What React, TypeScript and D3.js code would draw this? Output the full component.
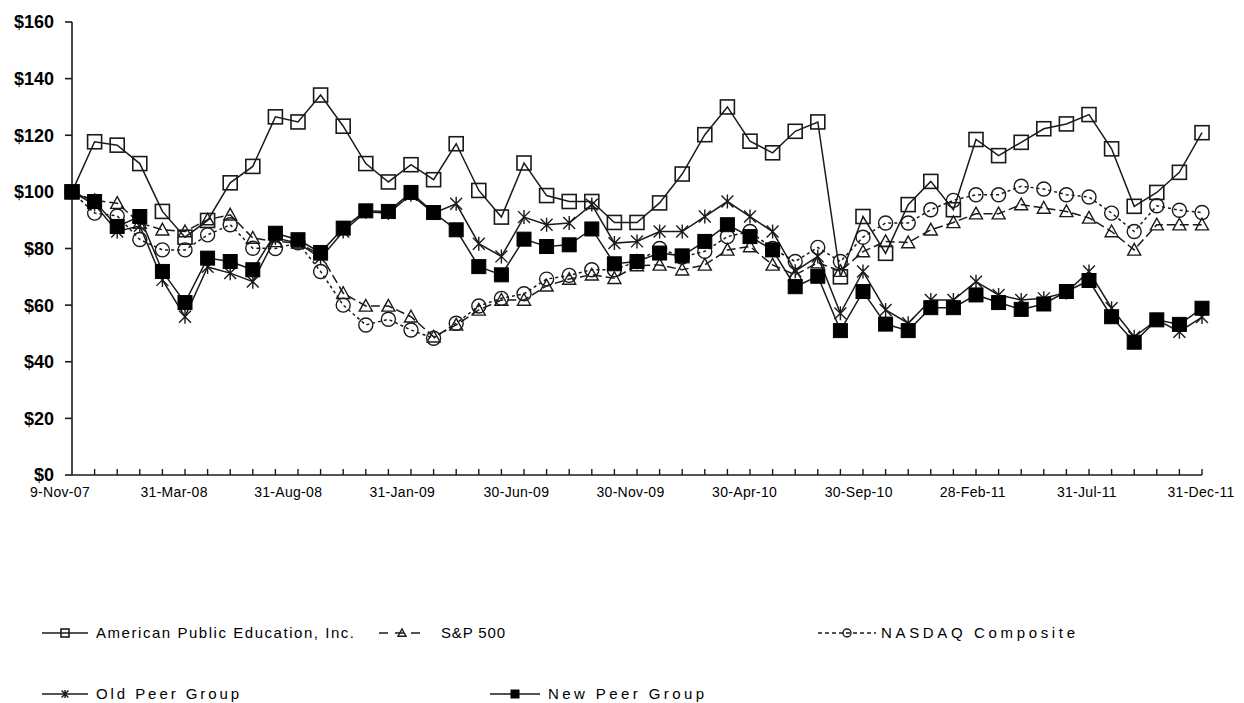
import React from "react";
import * as d3 from "d3";

const dates = [
  "9-Nov-07", "30-Nov-07", "31-Dec-07", "31-Jan-08", "29-Feb-08", "31-Mar-08", "30-Apr-08", "31-May-08", "30-Jun-08", "31-Jul-08",
  "31-Aug-08", "30-Sep-08", "31-Oct-08", "30-Nov-08", "31-Dec-08", "31-Jan-09", "28-Feb-09", "31-Mar-09", "30-Apr-09", "31-May-09",
  "30-Jun-09", "31-Jul-09", "31-Aug-09", "30-Sep-09", "31-Oct-09", "30-Nov-09", "31-Dec-09", "31-Jan-10", "28-Feb-10", "31-Mar-10",
  "30-Apr-10", "31-May-10", "30-Jun-10", "31-Jul-10", "31-Aug-10", "30-Sep-10", "31-Oct-10", "30-Nov-10", "31-Dec-10", "31-Jan-11",
  "28-Feb-11", "31-Mar-11", "30-Apr-11", "31-May-11", "30-Jun-11", "31-Jul-11", "31-Aug-11", "30-Sep-11", "31-Oct-11", "30-Nov-11",
  "31-Dec-11",
];

const apei = [100, 117.7, 116.5, 110, 93.1, 84, 89.9, 103.2, 109, 126.5, 124.7, 134.2, 123.2, 110, 103.5, 109.6, 104.3, 117, 100.5, 91.1, 110.2, 98.7, 96.6, 96.6, 89.2, 89.2, 96.1, 106.3, 120.2, 130, 117.9, 113.8, 121.4, 124.7, 70, 91.3, 78.3, 95.5, 103.7, 93.7, 118.5, 112.8, 117.5, 122.3, 124, 127.3, 115.2, 94.9, 99.8, 106.9, 120.9];
const sp500 = [100, 97, 96, 89, 86.6, 86, 90.2, 91.9, 83.7, 82.5, 82, 77.8, 64.2, 59.7, 59.7, 55.9, 48.8, 53, 58.3, 61.8, 61.8, 66.8, 69.2, 70.7, 69.5, 74, 74.2, 72.5, 74.2, 79.5, 80.7, 74.2, 70.7, 75, 72, 78.9, 82.5, 82.1, 86.6, 89.2, 92.3, 92.3, 95.5, 94.3, 93.1, 90.8, 86, 79.5, 88.4, 88.4, 88.4];
const nasdaq = [100, 92.5, 91.5, 83.2, 79.5, 79.5, 84.8, 88.4, 80.1, 80, 82, 71.9, 60, 53, 55, 51.2, 48.3, 53.6, 59.7, 62.4, 64, 69.2, 70.5, 72.5, 72.5, 75.4, 80, 77, 79, 84.2, 86, 80, 75.4, 80.4, 75.4, 84, 89, 89, 93.7, 97, 99, 99, 102, 101, 99, 98.2, 92.5, 86, 95.1, 93.5, 92.7];
const oldPeer = [100, 95.5, 86, 88, 68.9, 55.9, 73.5, 71.3, 68.3, 83.7, 82, 76.6, 86, 93, 92.5, 99, 92.5, 95.8, 81.7, 77.2, 91.1, 88.4, 89, 95.5, 81.9, 82.5, 86, 86, 91.3, 96.6, 91.3, 86, 72, 77.2, 57.1, 71.9, 58.3, 53.6, 61.8, 61.8, 68.3, 63.6, 61.8, 62.4, 64.5, 71.9, 58.9, 48.8, 54.8, 50.6, 55.8];
const newPeer = [100, 96.6, 87.8, 91.3, 71.9, 60.9, 76.6, 75.4, 72.5, 85.4, 83.1, 78.6, 87.2, 93.3, 93.1, 99.8, 92.7, 86.6, 73.6, 70.7, 83.3, 80.7, 81.3, 86.9, 74.6, 75.4, 78.4, 77.4, 82.5, 88.4, 84.2, 79.5, 66.5, 70.2, 51, 64.8, 53.3, 51, 59.1, 59.1, 63.6, 60.9, 58.5, 60.4, 64.8, 68.7, 55.9, 46.9, 54.8, 53.2, 58.9];

const yTicks = [0, 20, 40, 60, 80, 100, 120, 140, 160];

type Marker = "square" | "triangle" | "circle" | "star" | "filled";

const series: { name: string; values: number[]; marker: Marker; dash: string | undefined; legendDash: string | undefined }[] = [
  { name: "American Public Education, Inc.", values: apei, marker: "square", dash: undefined, legendDash: undefined },
  { name: "S&P 500", values: sp500, marker: "triangle", dash: "9,4", legendDash: "9,7" },
  { name: "NASDAQ Composite", values: nasdaq, marker: "circle", dash: "3,3", legendDash: "4,3" },
  { name: "Old Peer Group", values: oldPeer, marker: "star", dash: undefined, legendDash: undefined },
  { name: "New Peer Group", values: newPeer, marker: "filled", dash: undefined, legendDash: undefined },
];

// legend layout: symbol start/length, text start, text width, row y
const legendLayout = [
  { lx: 42, lw: 46, ly: 633, tx: 96, tw: 258 },
  { lx: 379, lw: 46, ly: 633, tx: 441, tw: 64 },
  { lx: 818, lw: 58, ly: 633, tx: 881, tw: 194 },
  { lx: 42, lw: 46, ly: 694, tx: 96, tw: 143 },
  { lx: 490, lw: 50, ly: 694, tx: 548, tw: 156 },
];

const INK = "#1a1a1a";

function MarkerShape({ type, cx, cy, s }: { type: Marker; cx: number; cy: number; s: number }) {
  const h = s / 2;
  if (type === "square")
    return <rect x={cx - h} y={cy - h} width={s} height={s} fill="none" stroke={INK} strokeWidth={1.6} />;
  if (type === "filled")
    return <rect x={cx - h} y={cy - h} width={s} height={s} fill="#000" stroke="#000" strokeWidth={1} />;
  if (type === "circle")
    return <circle cx={cx} cy={cy} r={h} fill="none" stroke={INK} strokeWidth={1.4} />;
  if (type === "triangle")
    return (
      <path
        d={`M${cx},${cy - h} L${cx + h},${cy + h * 0.8} L${cx - h},${cy + h * 0.8} Z`}
        fill="none"
        stroke={INK}
        strokeWidth={1.4}
      />
    );
  const d = h * 0.85;
  return (
    <path
      d={`M${cx},${cy - h} L${cx},${cy + h} M${cx - d},${cy - d} L${cx + d},${cy + d} M${cx - d},${cy + d} L${cx + d},${cy - d}`}
      fill="none"
      stroke={INK}
      strokeWidth={1.4}
    />
  );
}

export default function App() {
  const W = 1244;
  const H = 703;
  const x = d3.scaleLinear().domain([0, dates.length - 1]).range([72, 1202]);
  // category labels in the reference drift slightly left of their points
  const xLabel = d3.scaleLinear().domain([0, dates.length - 1]).range([60, 1201]);
  const y = d3.scaleLinear().domain([0, 160]).range([475, 22]);
  const line = d3
    .line<number>()
    .x((_, i) => x(i))
    .y((v) => y(v));

  return (
    <svg
      width={W}
      height={H}
      style={{ position: "absolute", left: 0, top: 0, background: "#fff" }}
      fontFamily="'Liberation Sans', Arial, sans-serif"
    >
      <rect width={W} height={H} fill="#fff" />
      {/* Y axis */}
      <line x1={72} x2={72} y1={y(0)} y2={y(160)} stroke={INK} strokeWidth={1.6} />
      {yTicks.map((t) => (
        <g key={t}>
          <line x1={65} x2={72} y1={y(t)} y2={y(t)} stroke={INK} strokeWidth={1.6} />
          <text x={54} y={y(t)} dy="0.36em" textAnchor="end" fontSize={18} fontWeight="bold" fill="#000">
            {"$" + t}
          </text>
        </g>
      ))}
      {/* X axis */}
      <line x1={72} x2={1202} y1={y(0)} y2={y(0)} stroke={INK} strokeWidth={1.6} />
      {dates.map((d, i) => (
        <g key={d}>
          {i > 0 && <line x1={x(i)} x2={x(i)} y1={y(0)} y2={y(0) - 6} stroke={INK} strokeWidth={1.4} />}
          {i % 5 === 0 && (
            <text x={xLabel(i)} y={y(0) + 22} textAnchor="middle" fontSize={14} letterSpacing={0.3} fill="#000">
              {d}
            </text>
          )}
        </g>
      ))}
      {/* Series */}
      {series.map((s) => (
        <g key={s.name}>
          <path d={line(s.values) || ""} fill="none" stroke={INK} strokeWidth={1.5} strokeDasharray={s.dash} />
          {s.values.map((v, i) => (
            <MarkerShape key={i} type={s.marker} cx={x(i)} cy={y(v)} s={s.marker === "triangle" ? 13 : 14} />
          ))}
        </g>
      ))}
      {/* Legend */}
      {series.map((s, k) => {
        const L = legendLayout[k];
        return (
          <g key={s.name}>
            <line x1={L.lx} x2={L.lx + L.lw} y1={L.ly} y2={L.ly} stroke={INK} strokeWidth={1.5} strokeDasharray={s.legendDash} />
            <MarkerShape type={s.marker} cx={L.lx + L.lw / 2} cy={L.ly} s={8} />
            <text x={L.tx} y={L.ly} dy="0.36em" fontSize={15} textLength={L.tw} lengthAdjust="spacing" fill="#000">
              {s.name}
            </text>
          </g>
        );
      })}
    </svg>
  );
}
